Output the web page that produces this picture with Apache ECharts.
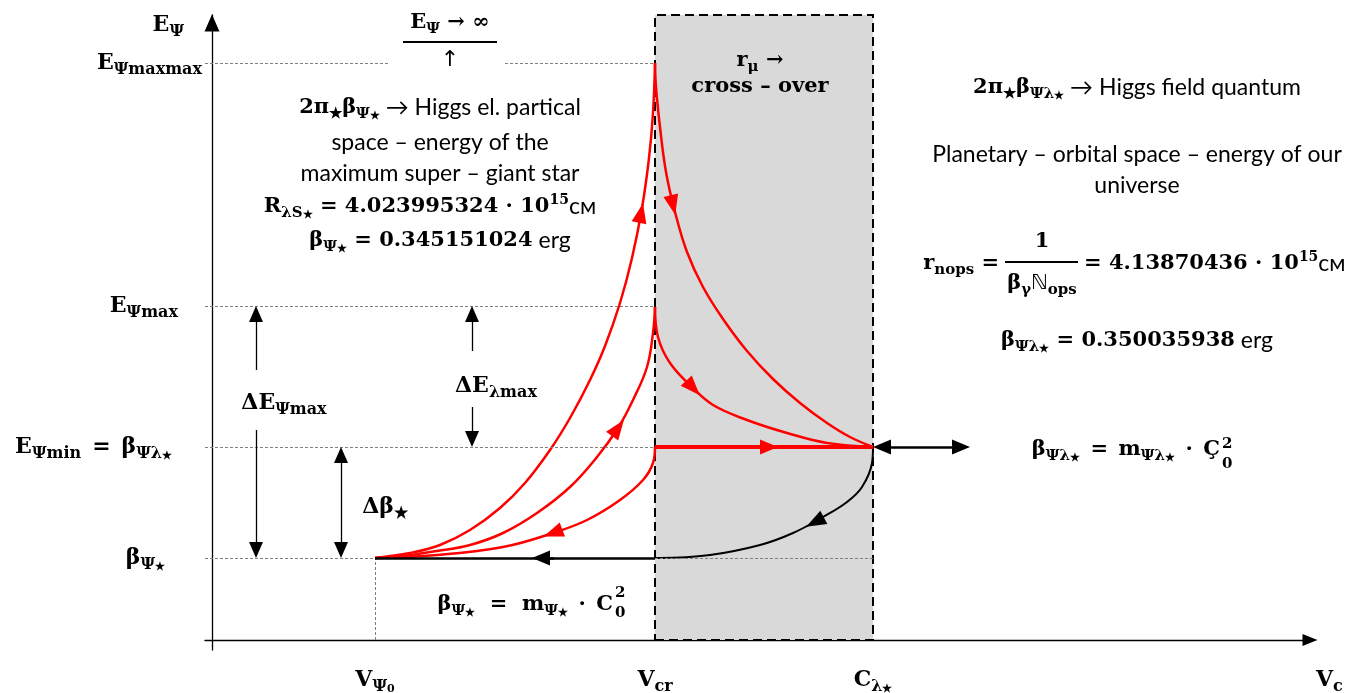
<!DOCTYPE html>
<html>
<head>
<meta charset="utf-8">
<script src="https://cdn.jsdelivr.net/npm/echarts@6/dist/echarts.min.js"></script>
<style>
html, body { margin: 0; padding: 0; background: #fff; }
#main { width: 1348px; height: 693px; }
</style>
</head>
<body>
<div id="main"></div>
<script>
// levels on the two axes
var V_PSI0 = 1.63, V_CR = 4.43, C_LAM = 6.61;
var B_STAR = 0.82, E_MIN = 1.93, E_MAX = 3.34, E_MAXMAX = 5.77, E_TOP = 6.25;

var xTickValues = [V_PSI0, V_CR, C_LAM];
var xTickLabels = ['{M|V}{S|Ψ}{SS|0}', '{M|V}{S|cr}', '{M|C}{S|λ}{SS|★}'];
var yTickValues = [B_STAR, E_MIN, E_MAX, E_MAXMAX];
var yTickLabels = ['{M|β}{S|Ψ}{SS|★}', '{M|E}{S|Ψmin}{M|\u2002=\u2002β}{S|Ψλ}{SS|★}', '{M|E}{S|Ψmax}', '{M|E}{S|Ψmaxmax}'];

// red: V_psi0 -> E_maxmax at V_cr
var curveA = [[1.63, 0.82], [1.98, 0.87], [2.28, 0.95], [2.58, 1.10], [2.88, 1.32], [3.13, 1.57], [3.38, 1.90],
  [3.58, 2.22], [3.78, 2.60], [3.93, 2.94], [4.08, 3.37], [4.20, 3.82], [4.30, 4.32], [4.37, 4.82],
  [4.41, 5.27], [4.43, 5.77]];
// red: V_psi0 -> E_max at V_cr
var curveB = [[1.63, 0.82], [1.91, 0.84], [2.25, 0.89], [2.58, 0.95], [2.91, 1.07], [3.25, 1.27], [3.58, 1.53],
  [3.85, 1.83], [4.06, 2.12], [4.21, 2.40], [4.35, 2.73], [4.41, 3.07], [4.43, 3.33]];
// red: E_min at V_cr back down to V_psi0
var curveC = [[4.43, 1.93], [4.41, 1.77], [4.31, 1.60], [4.08, 1.40], [3.75, 1.20], [3.41, 1.07], [2.91, 0.93],
  [2.25, 0.85], [1.63, 0.82]];
// red: E_maxmax down to C_lambda
var curveD = [[4.43, 5.77], [4.44, 5.53], [4.48, 5.13], [4.54, 4.68], [4.63, 4.28], [4.75, 3.88], [4.91, 3.53],
  [5.11, 3.21], [5.35, 2.89], [5.61, 2.61], [5.88, 2.37], [6.15, 2.17], [6.38, 2.03], [6.61, 1.93]];
// red: E_max down to C_lambda
var curveE = [[4.43, 3.33], [4.46, 3.03], [4.58, 2.77], [4.81, 2.52], [5.01, 2.35], [5.35, 2.20], [5.75, 2.07],
  [6.15, 1.97], [6.61, 1.93]];
// black: C_lambda back to V_cr
var curveF = [[6.61, 1.93], [6.60, 1.77], [6.50, 1.53], [6.35, 1.38], [6.11, 1.23], [5.81, 1.07], [5.48, 0.95],
  [4.98, 0.85], [4.48, 0.82], [4.43, 0.82]];

// where the arrow heads sit on each curve
var arrowA = [4.29, 4.27], arrowB = [4.06, 2.12], arrowC = [3.41, 1.07];
var arrowD = [4.61, 4.35], arrowE = [4.81, 2.52], arrowF = [6.03, 1.18];

var SERIF = '"DejaVu Serif"';
var SANS = 'Lato';
var rich = {
  M: { fontFamily: SERIF, fontWeight: 'bold', fontSize: 22, lineHeight: 30, color: '#000' },
  S: { fontFamily: SERIF, fontWeight: 'bold', fontSize: 16, lineHeight: 12, verticalAlign: 'bottom', color: '#000' },
  SS: { fontFamily: SERIF, fontWeight: 'bold', fontSize: 11, lineHeight: 2, verticalAlign: 'bottom', color: '#000' },
  m: { fontFamily: SERIF, fontWeight: 'bold', fontSize: 21, lineHeight: 28, color: '#000' },
  s: { fontFamily: SERIF, fontWeight: 'bold', fontSize: 15, lineHeight: 12, verticalAlign: 'bottom', color: '#000' },
  ss: { fontFamily: SERIF, fontWeight: 'bold', fontSize: 11, lineHeight: 2, verticalAlign: 'bottom', color: '#000' },
  sup: { fontFamily: SERIF, fontWeight: 'bold', fontSize: 14, lineHeight: 14, verticalAlign: 'top', color: '#000' },
  st: { fontFamily: SERIF, fontWeight: 'bold', fontSize: 15, lineHeight: 20, color: '#000' },
  n: { fontFamily: '"DejaVu Sans"', fontSize: 21, lineHeight: 28, color: '#000' },
  t: { fontFamily: SANS, fontSize: 23, lineHeight: 28, color: '#1a1a1a' },
  ar: { fontFamily: '"DejaVu Sans"', fontSize: 22, lineHeight: 28, color: '#000' },
  p0: { width: 0 }, p24: { width: 24 }, p30: { width: 30 }, p37: { width: 37 }
};
var yPads = ['p37', 'p30', 'p24', 'p0'];

var notes = [
  { x: 450, y: 23, t: '{m|E}{s|Ψ}{m| → ∞}' },
  { x: 450, y: 60, t: '{ar|↑}' },
  { x: 440, y: 108, t: '{m|2π}{s|★}{m|β}{s|Ψ}{ss|★}{t| → Higgs el. partical}' },
  { x: 440, y: 143, t: '{t|space – energy of the}' },
  { x: 440, y: 174, t: '{t|maximum super – giant star}' },
  { x: 430, y: 207, t: '{m|R}{s|λS}{ss|★}{m| = 4.023995324 · 10}{sup|15}{t|см}' },
  { x: 440, y: 241, t: '{m|β}{s|Ψ}{ss|★}{m| = 0.345151024}{t| erg}' },
  { x: 760, y: 61, t: '{m|r}{s|μ}{m| →}' },
  { x: 760, y: 87, t: '{m|cross – over}' },
  { x: 1137, y: 88, t: '{m|2π}{s|★}{m|β}{s|Ψλ}{ss|★}{t| → Higgs field quantum}' },
  { x: 1137, y: 155, t: '{t|Planetary – orbital space – energy of our}' },
  { x: 1137, y: 186, t: '{t|universe}' },
  { x: 999, y: 264, t: '{m|r}{s|nops}{m| =}', align: 'right' },
  { x: 1042, y: 242, t: '{m|1}' },
  { x: 1042, y: 284, t: '{m|β}{s|γ}{n|ℕ}{s|ops}' },
  { x: 1084, y: 264, t: '{m|= 4.13870436 · 10}{sup|15}{t|см}', align: 'left' },
  { x: 1137, y: 341, t: '{m|β}{s|Ψλ}{ss|★}{m| = 0.350035938}{t| erg}' },
  { x: 1220, y: 450, t: '{m|β}{s|Ψλ}{ss|★}{m|\u2002=\u2002m}{s|Ψλ}{ss|★}{m|\u2002·\u2002Ç}', align: 'right' },
  { x: 1222, y: 454, t: '{st|2}\n{st|0}', align: 'left' },
  { x: 613, y: 605, t: '{m|β}{s|Ψ}{ss|★}{m|\u2002\u2009=\u2002\u2009m}{s|Ψ}{ss|★}{m|\u2002·\u2002C}', align: 'right' },
  { x: 615, y: 603, t: '{st|2}\n{st|0}', align: 'left' },
  { x: 284, y: 403, t: '{M|ΔE}{S|Ψmax}' },
  { x: 496, y: 386, t: '{M|ΔE}{S|λmax}' },
  { x: 385, y: 507, t: '{M|Δβ}{S|★}' }
];

// short segment ending at the arrow point, along the curve
function arrowSeg(curve, at) {
  var best = 0, bd = Infinity;
  for (var i = 0; i < curve.length - 1; i++) {
    var a = curve[i], b = curve[i + 1];
    var dx = b[0] - a[0], dy = b[1] - a[1];
    var t = ((at[0] - a[0]) * dx + (at[1] - a[1]) * dy) / (dx * dx + dy * dy);
    t = Math.max(0, Math.min(1, t));
    var d = Math.hypot(a[0] + t * dx - at[0], a[1] + t * dy - at[1]);
    if (d < bd) { bd = d; best = i; }
  }
  var p = curve[best], q = curve[best + 1];
  var len = Math.hypot(q[0] - p[0], q[1] - p[1]);
  return [{ coord: [at[0] - (q[0] - p[0]) / len * 0.05, at[1] - (q[1] - p[1]) / len * 0.05] }, { coord: at }];
}

function seg(x1, y1, x2, y2, s1, s2) {
  return [{ coord: [x1, y1], symbol: s1 || 'none' }, { coord: [x2, y2], symbol: s2 || 'none' }];
}

function curveSeries(data, color, width, at) {
  return {
    type: 'line', data: data, smooth: 0.4, showSymbol: false, z: 4, silent: true,
    lineStyle: { color: color, width: width },
    markLine: {
      silent: true, symbol: ['none', 'triangle'], symbolSize: [15, 20],
      label: { show: false }, lineStyle: { color: color, width: width, type: 'solid' },
      data: [arrowSeg(data, at)]
    }
  };
}

var guideStyle = { color: '#7f7f7f', width: 1, type: [3, 2] };

var option = {
  animation: false,
  backgroundColor: '#fff',
  grid: { left: 205, right: 38, top: 15, bottom: 43, containLabel: false, outerBoundsMode: 'none' },
  xAxis: {
    type: 'value', min: -0.07, max: 10.98,
    name: '{M|V}{S|c}', nameLocation: 'end', nameGap: 6, nameMoveOverlap: false,
    nameTextStyle: { rich: rich, align: 'left', verticalAlign: 'middle', padding: [80, 0, 0, 0] },
    axisLine: { onZero: true, symbol: ['none', 'triangle'], symbolSize: [12, 15], lineStyle: { color: '#000', width: 1.3 } },
    axisTick: { show: false }, splitLine: { show: false },
    axisLabel: {
      customValues: xTickValues, margin: 15, rich: rich,
      formatter: function (v) { return xTickLabels[xTickValues.indexOf(v)]; }
    }
  },
  yAxis: {
    type: 'value', min: -0.10, max: E_TOP,
    name: '{M|E}{S|Ψ}', nameLocation: 'end', nameGap: -10, nameMoveOverlap: false,
    nameTextStyle: { rich: rich, align: 'right', verticalAlign: 'middle', padding: [0, 28, 0, 0] },
    axisLine: { onZero: true, symbol: ['none', 'triangle'], symbolSize: [15, 17], symbolOffset: [0, -8], lineStyle: { color: '#000', width: 1.3 } },
    axisTick: { show: false }, splitLine: { show: false },
    axisLabel: {
      customValues: yTickValues, margin: 3, rich: rich,
      formatter: function (v) { var i = yTickValues.indexOf(v); return yTickLabels[i] + '{' + yPads[i] + '| }'; }
    }
  },
  series: [
    {
      // cross-over band
      type: 'line', data: [], z: 1, silent: true,
      markArea: {
        silent: true,
        itemStyle: { color: '#d9d9d9', borderColor: '#000', borderWidth: 2, borderType: [9, 5] },
        data: [[{ coord: [V_CR, 0] }, { coord: [C_LAM, E_TOP] }]]
      }
    },
    {
      // dotted level guides
      type: 'line', data: [], z: 2, silent: true,
      markLine: {
        silent: true, symbol: 'none', label: { show: false }, lineStyle: guideStyle,
        data: [
          seg(-0.07, E_MAXMAX, 1.78, E_MAXMAX), seg(2.93, E_MAXMAX, V_CR, E_MAXMAX),
          seg(-0.07, E_MAX, V_CR, E_MAX),
          seg(-0.07, E_MIN, V_CR, E_MIN),
          seg(-0.07, B_STAR, C_LAM, B_STAR),
          seg(V_PSI0, 0, V_PSI0, B_STAR)
        ]
      }
    },
    {
      // thin black measuring arrows
      type: 'line', data: [], z: 3, silent: true,
      markLine: {
        silent: true, symbol: 'none', symbolSize: [14, 16], label: { show: false },
        lineStyle: { color: '#000', width: 1.3, type: 'solid' },
        data: [
          seg(0.44, 2.70, 0.44, 3.26, 'none', 'triangle'), seg(0.44, 2.10, 0.44, 0.90, 'none', 'triangle'),
          seg(2.60, 2.89, 2.60, 3.26, 'none', 'triangle'), seg(2.60, 2.33, 2.60, 2.01, 'none', 'triangle'),
          seg(1.29, 1.85, 1.29, 0.90, 'triangle', 'triangle')
        ]
      }
    },
    {
      // black flow lines
      type: 'line', data: [], z: 4, silent: true,
      markLine: {
        silent: true, symbol: 'none', symbolSize: [15, 18], label: { show: false },
        lineStyle: { color: '#000', width: 2.5, type: 'solid' },
        data: [
          seg(V_CR, B_STAR, V_PSI0, B_STAR),
          seg(3.42, B_STAR, 3.29, B_STAR, 'none', 'triangle'),
          seg(6.70, E_MIN, 7.49, E_MIN, 'triangle', 'triangle')
        ]
      }
    },
    curveSeries(curveF, '#000', 2, arrowF),
    curveSeries(curveA, '#ff0000', 2.5, arrowA),
    curveSeries(curveB, '#ff0000', 2.5, arrowB),
    curveSeries(curveC, '#ff0000', 2.5, arrowC),
    curveSeries(curveD, '#ff0000', 2.5, arrowD),
    curveSeries(curveE, '#ff0000', 2.5, arrowE),
    {
      // red flow along E_min
      type: 'line', data: [], z: 5, silent: true,
      markLine: {
        silent: true, symbol: 'none', symbolSize: [15, 18], label: { show: false },
        lineStyle: { color: '#ff0000', width: 4, type: 'solid' },
        data: [
          seg(V_CR, E_MIN, C_LAM, E_MIN),
          seg(5.45, E_MIN, 5.57, E_MIN, 'none', 'triangle')
        ]
      }
    }
  ],
  graphic: notes.map(function (n) {
    return {
      type: 'text', x: n.x, y: n.y, z: 10, silent: true,
      style: { text: n.t, rich: rich, align: n.align || 'center', verticalAlign: 'middle' }
    };
  }).concat([
    { type: 'line', z: 10, silent: true, shape: { x1: 403, y1: 42, x2: 497, y2: 42 }, style: { stroke: '#000', lineWidth: 2 } },
    { type: 'line', z: 10, silent: true, shape: { x1: 1005, y1: 262, x2: 1078, y2: 262 }, style: { stroke: '#000', lineWidth: 2 } }
  ])
};

var chart = echarts.init(document.getElementById('main'));
chart.setOption(option);
</script>
</body>
</html>
